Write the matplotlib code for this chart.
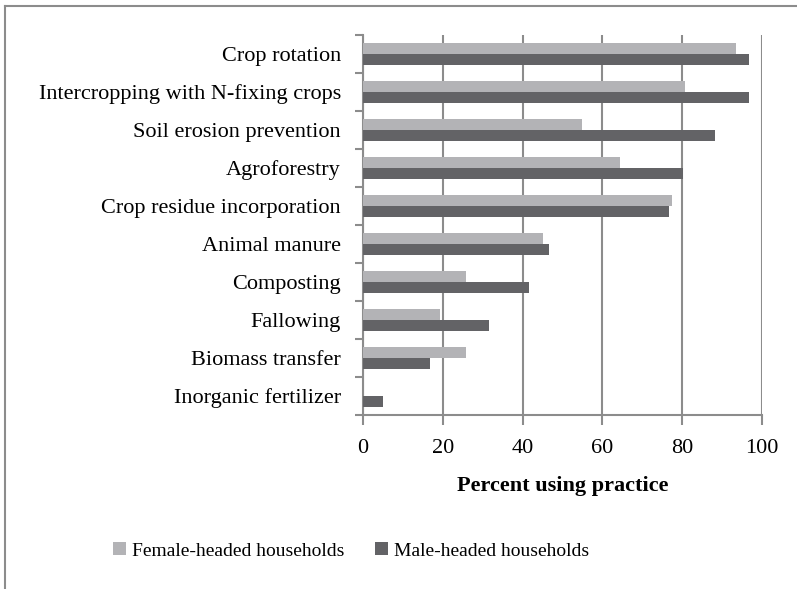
import matplotlib.pyplot as plt
import numpy as np
from matplotlib.lines import Line2D

# Practices (top to bottom) and percent of households using each one
practices = ['Crop rotation', 'Intercropping with N-fixing crops', 'Soil erosion prevention',
             'Agroforestry', 'Crop residue incorporation', 'Animal manure', 'Composting',
             'Fallowing', 'Biomass transfer', 'Inorganic fertilizer']
female = [93.6, 80.6, 54.8, 64.5, 77.4, 45.2, 25.8, 19.4, 25.8, 0.0]
male = [96.8, 96.8, 88.3, 80.1, 76.8, 46.7, 41.6, 31.7, 16.7, 5.0]

plt.rcParams['font.family'] = ['Liberation Serif', 'DejaVu Serif']
grid_col = '#8c8c8c'
fs = 16

fig = plt.figure(figsize=(7.97, 5.89), dpi=100)
ax = fig.add_axes([363 / 797, 1 - 415 / 589, 399 / 797, 380 / 589])

y = np.arange(len(practices))
h = 0.29
ax.barh(y - h / 2, female, height=h, color='#b3b3b6', label='Female-headed households', zorder=3)
ax.barh(y + h / 2, male, height=h, color='#636366', label='Male-headed households', zorder=3)

ax.set_xlim(0, 100)
ax.set_ylim(len(practices) - 0.5, -0.5)
ax.set_xticks(np.arange(0, 101, 20))
ax.set_yticks(y)
ax.set_yticklabels(practices, fontsize=fs)
ax.tick_params(axis='y', which='major', length=0, pad=16)
ax.set_yticks(np.arange(-0.5, len(practices)), minor=True)
ax.tick_params(axis='y', which='minor', length=6, width=1.5, color=grid_col)
ax.tick_params(axis='x', length=7, width=1.5, color=grid_col, labelsize=fs, pad=10)
ax.grid(axis='x', color=grid_col, linewidth=1.5, zorder=0)
for s in ['top', 'right']:
    ax.spines[s].set_visible(False)
for s in ['left', 'bottom']:
    ax.spines[s].set_color(grid_col)
    ax.spines[s].set_linewidth(1.5)
ax.set_xlabel('Percent using practice', fontsize=fs, fontweight='bold', labelpad=13)

fig.legend(loc='center', bbox_to_anchor=(351 / 797, 1 - 551 / 589), ncol=2, frameon=False,
           fontsize=14, handlelength=0.65, handleheight=0.65, handletextpad=0.3,
           columnspacing=1.6)

# outer frame (left and top edges visible)
fig.add_artist(Line2D([5 / 797, 5 / 797], [0, 1 - 6 / 589], color=grid_col, lw=1.5))
fig.add_artist(Line2D([5 / 797, 1], [1 - 6 / 589, 1 - 6 / 589], color=grid_col, lw=1.5))

fig.savefig('out.png', dpi=100)
